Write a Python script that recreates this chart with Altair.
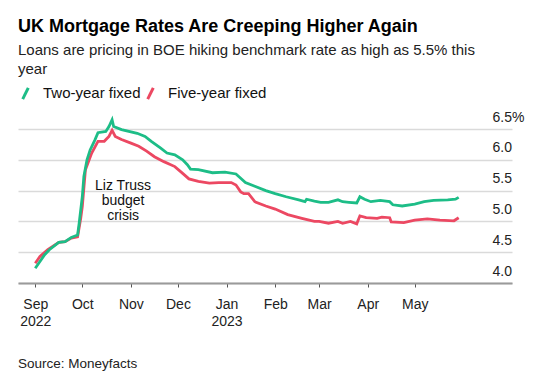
import altair as alt
import pandas as pd

# ---- data ----
two_dates = ["2022-09-01","2022-09-04","2022-09-07","2022-09-10","2022-09-16","2022-09-20","2022-09-24","2022-09-28","2022-09-29","2022-10-01","2022-10-02","2022-10-04","2022-10-06","2022-10-09","2022-10-11","2022-10-16","2022-10-18","2022-10-20","2022-10-21","2022-10-26","2022-11-05","2022-11-10","2022-11-14","2022-11-20","2022-11-24","2022-11-29","2022-12-04","2022-12-07","2022-12-09","2022-12-14","2022-12-23","2022-12-31","2023-01-07","2023-01-10","2023-01-13","2023-01-19","2023-01-26","2023-02-01","2023-02-08","2023-02-16","2023-02-20","2023-02-21","2023-02-26","2023-03-02","2023-03-07","2023-03-13","2023-03-16","2023-03-20","2023-03-25","2023-03-27","2023-03-30","2023-04-03","2023-04-09","2023-04-15","2023-04-17","2023-04-23","2023-05-01","2023-05-07","2023-05-13","2023-05-22","2023-05-27","2023-05-29"]
two_vals = [4.24,4.35,4.46,4.54,4.66,4.67,4.74,4.78,4.97,5.40,5.73,6.00,6.16,6.32,6.44,6.46,6.54,6.65,6.54,6.49,6.43,6.38,6.30,6.19,6.11,6.08,6.00,5.92,5.85,5.84,5.79,5.80,5.77,5.70,5.63,5.57,5.50,5.45,5.40,5.35,5.32,5.36,5.33,5.31,5.31,5.35,5.32,5.31,5.30,5.40,5.36,5.32,5.34,5.32,5.27,5.25,5.28,5.32,5.34,5.35,5.36,5.39]

five_dates = ["2022-09-01","2022-09-04","2022-09-09","2022-09-16","2022-09-20","2022-09-24","2022-09-28","2022-09-30","2022-10-01","2022-10-03","2022-10-07","2022-10-11","2022-10-15","2022-10-18","2022-10-20","2022-10-22","2022-10-26","2022-11-01","2022-11-06","2022-11-11","2022-11-16","2022-11-22","2022-11-29","2022-12-04","2022-12-08","2022-12-14","2022-12-21","2022-12-27","2023-01-04","2023-01-07","2023-01-10","2023-01-12","2023-01-15","2023-01-19","2023-01-26","2023-02-01","2023-02-09","2023-02-18","2023-02-26","2023-03-01","2023-03-07","2023-03-13","2023-03-16","2023-03-21","2023-03-25","2023-03-27","2023-03-31","2023-04-07","2023-04-10","2023-04-15","2023-04-16","2023-04-24","2023-05-01","2023-05-09","2023-05-17","2023-05-26","2023-05-29"]
five_vals = [4.32,4.43,4.54,4.66,4.67,4.73,4.75,5.05,5.24,5.84,6.11,6.30,6.30,6.38,6.48,6.38,6.33,6.27,6.22,6.14,6.05,5.97,5.89,5.78,5.69,5.65,5.62,5.63,5.63,5.59,5.48,5.45,5.45,5.32,5.25,5.20,5.11,5.05,5.00,5.00,4.97,5.00,4.97,5.00,4.96,5.09,5.06,5.05,5.07,5.06,4.99,4.98,5.02,5.04,5.02,5.01,5.06]

series_names = ["Two-year fixed", "Five-year fixed"]
series_colors = ["#1dbd87", "#ec4862"]
y_ticks = [4.0, 4.5, 5.0, 5.5, 6.0, 6.5]
annot_lines = ["Liz Truss", "budget", "crisis"]
annot_date = ["2022-10-27"]
annot_value = [5.51]
title_text = "UK Mortgage Rates Are Creeping Higher Again"
subtitle_lines = ["Loans are pricing in BOE hiking benchmark rate as high as 5.5% this", "year"]
source_text = "Source: Moneyfacts"

FONT = "Liberation Sans"

df = pd.concat([
    pd.DataFrame({"date": two_dates, "rate": two_vals, "series": series_names[0]}),
    pd.DataFrame({"date": five_dates, "rate": five_vals, "series": series_names[1]}),
])

tick_months = [(2022, 9), (2022, 10), (2022, 11), (2022, 12), (2023, 1), (2023, 2), (2023, 3), (2023, 4), (2023, 5)]
x_values = [alt.DateTime(year=y, month=m, date=1, utc=True) for y, m in tick_months]

x_enc = alt.X(
    "date:T",
    scale=alt.Scale(type="utc",
                    domain=[alt.DateTime(year=2022, month=8, date=21, utc=True),
                            alt.DateTime(year=2023, month=7, date=2, utc=True)]),
    axis=alt.Axis(
        values=x_values,
        title=None,
        grid=False,
        domainColor="#9a9a9a",
        domainWidth=2,
        tickColor="#555555",
        tickSize=4,
        tickWidth=1,
        labelPadding=10,
        labelFont=FONT,
        labelFontSize=14,
        labelColor="#222222",
        labelLineHeight=17,
        labelBaseline="top",
        labelOverlap=False,
        labelExpr="[utcFormat(datum.value, '%b'), (utcFormat(datum.value, '%m') == '01' || utcFormat(datum.value, '%Y-%m') == '2022-09') ? utcFormat(datum.value, '%Y') : '']",
    ),
)

y_enc = alt.Y(
    "rate:Q",
    scale=alt.Scale(domain=[4.0, 6.5], nice=False, zero=False),
    axis=alt.Axis(
        orient="right",
        values=y_ticks,
        tickCount=6,
        title=None,
        domain=False,
        ticks=False,
        tickSize=0,
        grid=True,
        gridColor="#dadada",
        gridWidth=1.3,
        labelAlign="left",
        labelPadding=-20,
        labelBaseline="alphabetic",
        labelOffset=-8,
        labelOverlap=False,
        labelFlush=False,
        labelFont=FONT,
        labelFontSize=14,
        labelColor="#222222",
        labelExpr="datum.value == 6.5 ? '6.5%' : format(datum.value, '.1f')",
    ),
)

color_enc = alt.Color(
    "series:N",
    scale=alt.Scale(domain=series_names, range=series_colors),
    legend=alt.Legend(
        title=None,
        orient="none",
        legendX=0,
        legendY=-43.5,
        direction="horizontal",
        symbolType="M-1.4,2.8L1.4,-2.8",
        symbolSize=16,
        symbolStrokeWidth=3,
        labelFont=FONT,
        labelFontSize=15,
        labelColor="#111111",
        labelOffset=10,
        columnPadding=0,
        padding=0,
    ),
)

base = alt.Chart(df)
five = base.transform_filter(alt.datum.series == series_names[1]).mark_line(strokeWidth=2.8).encode(x=x_enc, y=y_enc, color=color_enc)
two = base.transform_filter(alt.datum.series == series_names[0]).mark_line(strokeWidth=2.8).encode(x=x_enc, y=y_enc, color=color_enc)

annot = alt.Chart(pd.DataFrame({"date": annot_date, "rate": annot_value})).mark_text(
    text=annot_lines, font=FONT, fontSize=14, lineHeight=15, align="center", baseline="alphabetic", color="#111111"
).encode(x=x_enc, y=y_enc)

source = alt.Chart(pd.DataFrame({"t": [source_text]})).mark_text(
    font=FONT, fontSize=13.5, align="left", baseline="alphabetic", color="#222222"
).encode(x=alt.value(0), y=alt.value(239), text="t:N")

chart = alt.layer(five, two, annot, source).properties(
    width=494,
    height=154,
    padding={"left": 10, "top": 10, "right": 5, "bottom": 5},
    title=alt.TitleParams(
        text=title_text,
        subtitle=subtitle_lines,
        anchor="start",
        frame="group",
        font=FONT,
        fontSize=18,
        fontWeight="bold",
        color="#000000",
        subtitleFont=FONT,
        subtitleFontSize=15,
        subtitleColor="#222222",
        subtitleLineHeight=19,
        subtitlePadding=7,
        offset=8.5,
    ),
).configure_view(stroke=None)

chart.save("out.html", embed_options={"renderer": "svg", "actions": False})
